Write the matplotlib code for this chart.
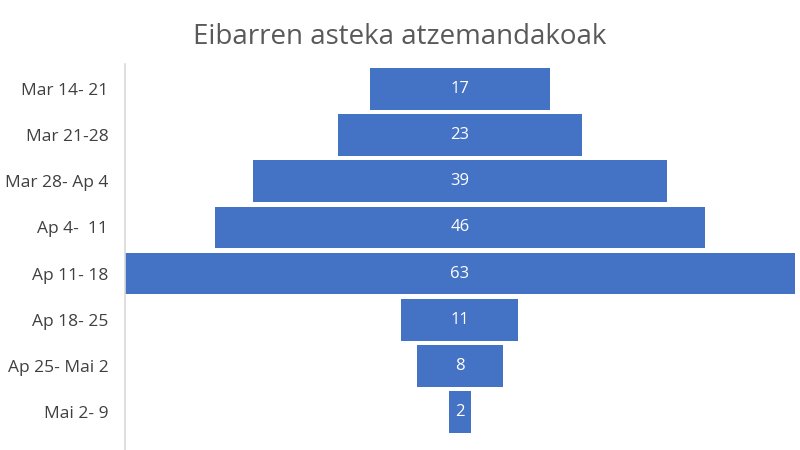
import numpy as np
import matplotlib
matplotlib.use("Agg")
import matplotlib.pyplot as plt

weeks = ["Mar 14- 21", "Mar 21-28", "Mar 28- Ap 4", "Ap 4-  11",
         "Ap 11- 18", "Ap 18- 25", "Ap 25- Mai 2", "Mai 2- 9"]
cases = [17, 23, 39, 46, 63, 11, 8, 2]

bar_color = "#4472C4"

fig = plt.figure(figsize=(8, 4.5), dpi=100)
ax = fig.add_axes([125 / 800, 0, 671 / 800, 386 / 450])

y = np.arange(len(weeks))
vals = np.array(cases)
ax.barh(y, vals, left=-vals / 2, height=0.9, color=bar_color)

for yi, v in zip(y, cases):
    ax.text(0, yi, str(v), ha="center", va="center", color="white",
            fontsize=12, family="Open Sans")

ax.set_xlim(-31.5, 31.6)
ax.set_ylim(7.82, -0.54)
ax.set_yticks(y)
ax.set_yticklabels(weeks, fontsize=12.5, color="#404040", family="Open Sans")
ax.tick_params(axis="y", length=0, pad=12)
ax.set_xticks([])

for side in ["top", "right", "bottom"]:
    ax.spines[side].set_visible(False)
ax.spines["left"].set_color("#d9d9d9")
ax.spines["left"].set_linewidth(1.2)

fig.text(0.5, 1 - 37 / 450, "Eibarren asteka atzemandakoak", ha="center",
         va="center", fontsize=20, color="#595959", family="Open Sans")

fig.savefig("out.png", dpi=100)
